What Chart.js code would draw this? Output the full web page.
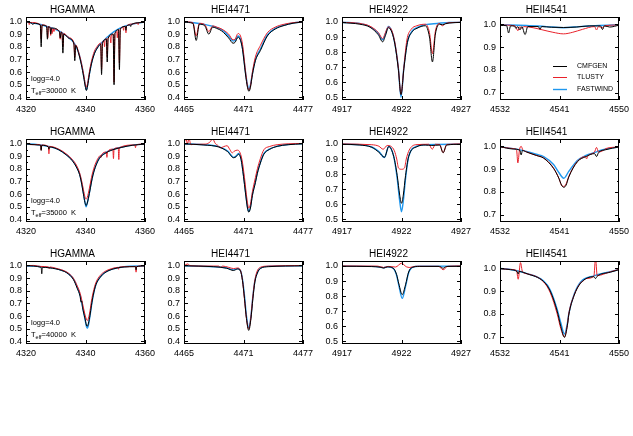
<!DOCTYPE html>
<html>
<head>
<meta charset="utf-8">
<script src="https://cdn.jsdelivr.net/npm/chart.js@4/dist/chart.umd.min.js"></script>
<style>
    html, body { margin: 0; padding: 0; background: #fff; overflow: hidden; }
    #wrap { position: relative; width: 633px; height: 436px; }
    #wrap canvas { position: absolute; }
</style>
</head>
<body>
<div id="wrap"></div>
<script>
// ---- data: [wavelength, normalised flux] ----
// HGAMMA, Teff = 30000 K
const hg30_cmfgen = [[4320,0.995],[4322,0.985],[4322.3,0.975],[4322.6,0.985],[4324.8,0.972],[4325.1,0.8],[4325.4,0.97],[4326.9,0.962],[4327.2,0.86],[4327.5,0.958],[4328.1,0.95],[4328.3,0.9],[4328.6,0.948],[4331.2,0.92],[4331.5,0.87],[4331.8,0.915],[4332.1,0.905],[4332.4,0.75],[4332.7,0.9],[4334.5,0.865],[4336.1,0.822],[4336.4,0.69],[4336.7,0.81],[4337.6,0.755],[4338.6,0.66],[4339.4,0.56],[4339.9,0.49],[4340.3,0.455],[4340.7,0.49],[4341.3,0.58],[4342,0.665],[4343,0.745],[4344,0.79],[4345.1,0.82],[4345.4,0.58],[4345.7,0.826],[4347,0.86],[4347.3,0.68],[4347.6,0.866],[4349.3,0.9],[4349.6,0.5],[4349.9,0.905],[4351.1,0.935],[4351.4,0.62],[4351.7,0.94],[4353.4,0.96],[4353.6,0.93],[4353.8,0.962],[4355,0.972],[4355.2,0.96],[4355.4,0.974],[4358,0.99],[4360,0.993]];
const hg30_tlusty = [[4320,0.997],[4320.9,0.992],[4321.1,0.975],[4321.3,0.992],[4324.8,0.975],[4325.1,0.86],[4325.4,0.973],[4327,0.962],[4327.3,0.87],[4327.6,0.96],[4328.1,0.952],[4328.3,0.89],[4328.5,0.95],[4328.8,0.905],[4329.1,0.945],[4329.4,0.92],[4329.7,0.94],[4331.2,0.922],[4331.5,0.86],[4331.8,0.918],[4332.1,0.91],[4332.4,0.8],[4332.7,0.905],[4334.5,0.872],[4336.1,0.83],[4336.4,0.72],[4336.7,0.815],[4337.6,0.765],[4338.6,0.675],[4339.4,0.58],[4339.9,0.51],[4340.3,0.48],[4340.7,0.51],[4341.3,0.6],[4342,0.685],[4343,0.765],[4344,0.805],[4345.1,0.83],[4345.4,0.62],[4345.7,0.836],[4346.2,0.848],[4346.4,0.8],[4346.6,0.852],[4347,0.865],[4347.3,0.72],[4347.6,0.87],[4348.3,0.882],[4348.5,0.83],[4348.7,0.886],[4349.3,0.9],[4349.6,0.52],[4349.9,0.905],[4350.5,0.918],[4350.7,0.87],[4350.9,0.922],[4351.1,0.935],[4351.4,0.67],[4351.7,0.94],[4352.6,0.955],[4352.8,0.93],[4353,0.958],[4353.4,0.962],[4353.6,0.91],[4353.8,0.964],[4355.9,0.98],[4357.5,0.988],[4357.7,0.975],[4357.9,0.99],[4360,0.995]];
const hg30_fastwind = [[4320,0.998],[4321.5,0.99],[4324.5,0.978],[4327,0.96],[4329,0.945],[4331,0.925],[4332.5,0.905],[4334.5,0.87],[4336.3,0.825],[4337.6,0.76],[4338.6,0.67],[4339.4,0.57],[4339.9,0.5],[4340.3,0.46],[4340.7,0.5],[4341.3,0.585],[4342,0.67],[4343,0.75],[4344,0.795],[4345.3,0.828],[4348.1,0.893],[4351.4,0.946],[4355.9,0.98],[4360,0.995]];

// HEI4471, Teff = 30000 K
const he4471_30_cmfgen = [[4465,0.993],[4465.9,0.985],[4466.23,0.85],[4466.55,0.978],[4467.1,0.965],[4467.5,0.9],[4467.9,0.955],[4468.3,0.945],[4468.8,0.925],[4469.5,0.87],[4469.95,0.828],[4470.15,0.835],[4470.45,0.875],[4470.7,0.85],[4470.9,0.78],[4471.2,0.585],[4471.4,0.48],[4471.55,0.448],[4471.7,0.48],[4471.9,0.58],[4472.2,0.69],[4472.7,0.77],[4473.4,0.885],[4474.2,0.94],[4475.1,0.968],[4476,0.986],[4477,0.995]];
const he4471_30_tlusty = [[4465,0.998],[4465.9,0.99],[4466.23,0.885],[4466.55,0.985],[4467.1,0.975],[4467.5,0.92],[4467.9,0.965],[4468.3,0.955],[4468.8,0.94],[4469.5,0.9],[4469.95,0.855],[4470.15,0.86],[4470.45,0.905],[4470.7,0.885],[4470.9,0.82],[4471.2,0.61],[4471.4,0.49],[4471.55,0.46],[4471.7,0.49],[4471.9,0.6],[4472.2,0.72],[4472.7,0.81],[4473.4,0.91],[4474.2,0.955],[4475.1,0.978],[4476,0.99],[4477,0.997]];
const he4471_30_fastwind = [[4465,0.997],[4466,0.99],[4467,0.978],[4468,0.96],[4468.8,0.935],[4469.5,0.885],[4469.95,0.845],[4470.15,0.85],[4470.45,0.885],[4470.7,0.86],[4470.9,0.79],[4471.2,0.6],[4471.4,0.5],[4471.55,0.47],[4471.7,0.5],[4471.9,0.59],[4472.2,0.7],[4472.7,0.78],[4473.4,0.893],[4474.2,0.945],[4475.1,0.972],[4476,0.988],[4477,0.996]];

// HEI4922, Teff = 30000 K
const he4922_30_cmfgen = [[4917,0.996],[4918.5,0.985],[4919.35,0.965],[4920.05,0.915],[4920.42,0.868],[4920.65,0.91],[4920.9,0.962],[4921.2,0.93],[4921.45,0.85],[4921.73,0.69],[4921.96,0.518],[4922.2,0.69],[4922.5,0.865],[4922.9,0.935],[4923.3,0.958],[4924,0.975],[4924.35,0.9],[4924.6,0.735],[4924.85,0.92],[4925.2,0.985],[4925.45,0.982],[4925.7,0.988],[4926,0.993],[4927,0.997]];
const he4922_30_tlusty = [[4917,0.998],[4918.5,0.99],[4919.35,0.972],[4920.05,0.93],[4920.42,0.89],[4920.65,0.93],[4920.9,0.968],[4921.2,0.94],[4921.45,0.86],[4921.73,0.7],[4921.96,0.52],[4922.2,0.7],[4922.45,0.88],[4922.8,0.95],[4923.3,0.975],[4924,0.985],[4924.35,0.93],[4924.6,0.79],[4924.85,0.94],[4925.15,0.99],[4925.45,0.975],[4925.7,0.99],[4926,0.995],[4927,0.998]];
const he4922_30_fastwind = [[4917,0.998],[4918.5,0.99],[4919.35,0.97],[4920.05,0.925],[4920.42,0.882],[4920.65,0.92],[4920.9,0.97],[4921.2,0.935],[4921.45,0.855],[4921.73,0.7],[4921.96,0.5],[4922.2,0.7],[4922.5,0.87],[4922.9,0.94],[4923.3,0.962],[4924,0.982],[4925,0.99],[4926,0.996],[4927,0.998]];

// HEII4541, Teff = 30000 K
const he4541_30_cmfgen = [[4532,0.995],[4533,0.994],[4533.3,0.962],[4533.6,0.993],[4534.2,0.992],[4534.4,0.982],[4534.7,0.99],[4535,0.975],[4535.3,0.99],[4535.8,0.955],[4536.2,0.99],[4537.8,0.99],[4538.05,0.978],[4538.3,0.99],[4539.8,0.987],[4541.6,0.986],[4543.6,0.988],[4545.5,0.993],[4547.2,0.993],[4547.5,0.977],[4547.8,0.993],[4548.6,0.988],[4550,0.996]];
const he4541_30_tlusty = [[4532,0.997],[4534.3,0.993],[4534.7,0.972],[4535,0.99],[4535.3,0.982],[4535.6,0.99],[4537,0.985],[4538.5,0.975],[4540,0.965],[4541.6,0.958],[4543,0.965],[4544.5,0.978],[4546.3,0.99],[4546.6,0.975],[4546.9,0.99],[4547.5,0.985],[4547.8,0.993],[4550,0.997]];
const he4541_30_fastwind = [[4532,0.998],[4536,0.995],[4539,0.99],[4541.6,0.985],[4544,0.99],[4547,0.995],[4550,0.998]];

// HGAMMA, Teff = 35000 K
const hg35_cmfgen = [[4320,0.996],[4324,0.988],[4324.9,0.985],[4325.1,0.945],[4325.3,0.985],[4327.5,0.972],[4327.7,0.955],[4327.9,0.972],[4331,0.95],[4333.5,0.91],[4335.5,0.865],[4336.9,0.815],[4338,0.755],[4338.6,0.695],[4339.3,0.6],[4339.8,0.535],[4340.2,0.51],[4340.6,0.53],[4341.3,0.605],[4342,0.695],[4342.5,0.75],[4343.5,0.825],[4344.7,0.883],[4346.5,0.92],[4349.2,0.95],[4352,0.968],[4355.9,0.986],[4360,0.994]];
const hg35_tlusty = [[4320,0.998],[4321.3,1.0],[4321.5,0.99],[4324,0.992],[4324.9,0.988],[4325.1,0.947],[4325.3,0.988],[4327.5,0.977],[4327.7,0.918],[4327.9,0.977],[4331,0.955],[4333.5,0.918],[4335.5,0.875],[4336.9,0.83],[4338,0.77],[4338.6,0.715],[4339.3,0.635],[4339.8,0.58],[4340.2,0.56],[4340.6,0.575],[4341.3,0.645],[4342,0.73],[4342.5,0.78],[4343.5,0.85],[4344.7,0.9],[4345,0.905],[4345.2,0.89],[4345.4,0.91],[4347,0.932],[4347.2,0.89],[4347.4,0.935],[4349.2,0.955],[4349.4,0.88],[4349.6,0.957],[4351,0.965],[4351.2,0.873],[4351.4,0.967],[4356.6,0.988],[4356.8,0.966],[4357,0.988],[4360,0.996]];
const hg35_fastwind = [[4320,0.998],[4324,0.99],[4328,0.975],[4331,0.952],[4333.5,0.913],[4335.5,0.87],[4336.9,0.82],[4338,0.76],[4338.6,0.7],[4339.3,0.61],[4339.8,0.54],[4340.2,0.5],[4340.6,0.53],[4341.3,0.61],[4342,0.7],[4342.5,0.755],[4343.5,0.83],[4344.7,0.887],[4346.5,0.925],[4349.2,0.953],[4352,0.97],[4355.9,0.987],[4360,0.995]];

// HEI4471, Teff = 35000 K
const he4471_35_cmfgen = [[4465,0.996],[4467,0.988],[4468.5,0.972],[4469.4,0.935],[4470,0.887],[4470.25,0.895],[4470.5,0.915],[4470.75,0.875],[4471,0.74],[4471.2,0.61],[4471.4,0.49],[4471.53,0.458],[4471.7,0.49],[4471.9,0.59],[4472.2,0.69],[4472.4,0.765],[4472.7,0.845],[4473.05,0.915],[4473.6,0.952],[4474.4,0.977],[4475.5,0.99],[4477,0.997]];
const he4471_35_tlusty = [[4465,1.0],[4465.2,1.04],[4465.35,0.995],[4465.5,1.04],[4465.7,0.99],[4466,0.993],[4467.2,0.995],[4467.6,1.01],[4467.9,1.035],[4468.15,1.0],[4468.4,0.985],[4468.7,0.966],[4469,0.975],[4469.35,0.982],[4469.6,0.955],[4469.86,0.926],[4470.1,0.94],[4470.36,0.947],[4470.6,0.935],[4470.85,0.87],[4471.1,0.73],[4471.35,0.56],[4471.53,0.49],[4471.7,0.52],[4471.9,0.62],[4472.2,0.73],[4472.4,0.8],[4472.7,0.88],[4473.05,0.95],[4473.6,0.975],[4474.4,0.99],[4475.5,0.997],[4477,1.0]];
const he4471_35_fastwind = [[4465,0.998],[4467,0.99],[4468.5,0.975],[4469.4,0.94],[4470,0.89],[4470.25,0.9],[4470.5,0.92],[4470.75,0.88],[4471,0.75],[4471.2,0.62],[4471.4,0.5],[4471.53,0.465],[4471.7,0.5],[4471.9,0.6],[4472.2,0.7],[4472.4,0.77],[4472.7,0.85],[4473.05,0.92],[4473.6,0.955],[4474.4,0.978],[4475.5,0.992],[4477,0.998]];

// HEI4922, Teff = 35000 K
const he4922_35_cmfgen = [[4917,0.998],[4918.5,0.993],[4919.5,0.978],[4920.1,0.945],[4920.57,0.912],[4920.93,0.983],[4921.35,0.916],[4921.64,0.79],[4921.85,0.66],[4922,0.606],[4922.15,0.66],[4922.34,0.79],[4922.6,0.916],[4923.3,0.982],[4924,0.993],[4924.55,0.99],[4925.2,0.993],[4925.5,0.942],[4925.8,0.993],[4927,0.998]];
const he4922_35_tlusty = [[4917,1.0],[4919.5,0.995],[4920.1,0.985],[4920.46,0.965],[4920.8,0.99],[4921.1,0.985],[4921.4,0.955],[4921.6,0.9],[4921.75,0.84],[4922,0.832],[4922.25,0.84],[4922.4,0.9],[4922.65,0.96],[4923.2,0.995],[4924.3,0.998],[4924.58,0.965],[4924.85,0.998],[4925.2,0.997],[4925.5,0.942],[4925.8,0.997],[4927,1.0]];
const he4922_35_fastwind = [[4917,0.999],[4918.5,0.995],[4919.5,0.98],[4920.1,0.95],[4920.57,0.91],[4920.93,0.985],[4921.35,0.916],[4921.64,0.77],[4921.85,0.62],[4922,0.55],[4922.15,0.62],[4922.34,0.77],[4922.6,0.916],[4923.3,0.985],[4924,0.995],[4927,0.999]];

// HEII4541, Teff = 35000 K
const he4541_35_cmfgen = [[4532,0.998],[4534,0.988],[4535,0.983],[4535.2,0.962],[4535.4,0.982],[4536,0.975],[4537.5,0.96],[4538.6,0.948],[4540.1,0.903],[4540.9,0.86],[4541.3,0.83],[4541.65,0.82],[4542,0.83],[4542.4,0.865],[4543.7,0.932],[4545,0.955],[4546.3,0.968],[4546.6,0.955],[4546.9,0.972],[4548,0.985],[4550,0.997]];
const he4541_35_tlusty = [[4532,0.998],[4534,0.99],[4534.5,0.985],[4534.7,0.927],[4534.95,0.985],[4535.2,1.0],[4535.45,0.985],[4536,0.976],[4537.5,0.96],[4538.6,0.949],[4540.1,0.905],[4540.9,0.86],[4541.3,0.83],[4541.65,0.824],[4542,0.835],[4542.4,0.868],[4543.7,0.934],[4544.9,0.955],[4545.1,0.945],[4545.3,0.958],[4546.3,0.975],[4546.6,0.995],[4546.9,0.975],[4547.7,0.983],[4548,0.99],[4550,0.997]];
const he4541_35_fastwind = [[4532,0.998],[4534,0.99],[4536,0.978],[4537.5,0.965],[4538.6,0.955],[4540.1,0.92],[4540.9,0.885],[4541.65,0.86],[4542.4,0.89],[4543.7,0.938],[4545,0.96],[4546.2,0.972],[4548,0.988],[4550,0.997]];

// HGAMMA, Teff = 40000 K
const hg40_cmfgen = [[4320,0.997],[4325.1,0.985],[4325.3,0.934],[4325.5,0.985],[4330,0.973],[4332,0.96],[4333.7,0.942],[4335.9,0.89],[4337.2,0.82],[4338.2,0.755],[4338.5,0.71],[4338.7,0.72],[4339,0.67],[4339.8,0.585],[4340.3,0.53],[4340.6,0.52],[4341,0.545],[4341.5,0.605],[4342,0.685],[4342.6,0.765],[4343.5,0.848],[4344.9,0.905],[4346.5,0.942],[4349.3,0.972],[4353,0.988],[4356.8,0.99],[4357,0.965],[4357.2,0.99],[4360,0.996]];
const hg40_tlusty = [[4320,0.998],[4322.5,1.0],[4325,0.992],[4327.6,0.988],[4327.8,0.975],[4328,0.988],[4330,0.978],[4332,0.965],[4333.7,0.948],[4335.9,0.9],[4337.2,0.84],[4338.2,0.78],[4339,0.7],[4339.8,0.615],[4340.3,0.575],[4340.6,0.565],[4341,0.585],[4341.5,0.64],[4342,0.72],[4342.6,0.79],[4343.5,0.865],[4344.9,0.92],[4346.5,0.952],[4349.3,0.978],[4350.9,0.985],[4351.1,0.97],[4351.3,0.986],[4353,0.99],[4356.8,0.992],[4357,0.947],[4357.2,0.992],[4360,0.997]];
const hg40_fastwind = [[4320,0.998],[4325,0.99],[4330,0.975],[4332,0.962],[4333.7,0.945],[4335.9,0.895],[4337.2,0.83],[4338.2,0.763],[4339,0.675],[4339.8,0.58],[4340.3,0.52],[4340.6,0.505],[4341,0.53],[4341.5,0.6],[4342,0.68],[4342.6,0.763],[4343.5,0.85],[4344.9,0.908],[4346.5,0.945],[4349.3,0.974],[4353,0.99],[4360,0.997]];

// HEI4471, Teff = 40000 K
const he4471_40_cmfgen = [[4465,0.997],[4468,0.99],[4469.3,0.978],[4470,0.96],[4470.4,0.972],[4470.7,0.955],[4470.9,0.88],[4471.1,0.74],[4471.3,0.58],[4471.53,0.487],[4471.75,0.58],[4471.95,0.74],[4472.15,0.87],[4472.4,0.94],[4472.7,0.976],[4473.5,0.99],[4477,0.997]];
const he4471_40_tlusty = [[4465,0.998],[4465.4,1.012],[4465.6,0.998],[4467,0.995],[4468.5,0.995],[4468.7,0.985],[4468.9,0.995],[4469.5,0.985],[4470,0.975],[4470.4,0.98],[4470.7,0.96],[4470.9,0.88],[4471.1,0.73],[4471.3,0.58],[4471.5,0.5],[4471.7,0.56],[4471.9,0.72],[4472.1,0.86],[4472.35,0.95],[4472.7,0.985],[4473.5,0.995],[4477,0.999]];
const he4471_40_fastwind = [[4465,0.998],[4468,0.99],[4469.3,0.98],[4470,0.965],[4470.4,0.975],[4470.7,0.96],[4470.9,0.89],[4471.1,0.76],[4471.3,0.6],[4471.53,0.51],[4471.75,0.6],[4471.95,0.76],[4472.15,0.88],[4472.4,0.945],[4472.7,0.978],[4473.5,0.993],[4477,0.998]];

// HEI4922, Teff = 40000 K
const he4922_40_cmfgen = [[4917,0.998],[4919.5,0.996],[4920.2,0.992],[4920.5,0.986],[4920.8,0.994],[4921.3,0.985],[4921.58,0.945],[4921.78,0.88],[4922.06,0.81],[4922.34,0.875],[4922.6,0.96],[4922.9,0.99],[4923.5,0.997],[4925.2,0.997],[4925.5,0.985],[4925.8,0.997],[4927,0.998]];
const he4922_40_tlusty = [[4917,1.0],[4920,0.999],[4920.5,0.99],[4920.9,0.997],[4921.5,0.993],[4922,1.018],[4922.4,0.995],[4922.7,0.99],[4923.2,0.998],[4925.1,0.998],[4925.5,0.975],[4925.9,0.998],[4927,1.0]];
const he4922_40_fastwind = [[4917,0.999],[4919.5,0.997],[4920.2,0.993],[4920.5,0.988],[4920.8,0.995],[4921.3,0.985],[4921.58,0.94],[4921.78,0.87],[4922.06,0.785],[4922.34,0.865],[4922.6,0.955],[4922.9,0.99],[4923.5,0.998],[4927,0.999]];

// HEII4541, Teff = 40000 K
const he4541_40_cmfgen = [[4532,0.998],[4533.6,0.994],[4534.6,0.985],[4534.75,0.975],[4534.9,0.986],[4536.1,0.976],[4538.6,0.942],[4539.6,0.9],[4540.65,0.812],[4541.2,0.745],[4541.75,0.697],[4542.2,0.75],[4542.4,0.795],[4543.2,0.88],[4544.2,0.935],[4546.2,0.963],[4546.45,0.955],[4546.7,0.965],[4548.7,0.983],[4550,0.994]];
const he4541_40_tlusty = [[4532,0.999],[4533.6,0.995],[4534.5,0.99],[4534.75,0.952],[4535.1,1.025],[4535.4,0.985],[4536.1,0.976],[4538.6,0.94],[4539.6,0.893],[4540.65,0.8],[4541.2,0.735],[4541.75,0.7],[4542.2,0.755],[4542.4,0.8],[4543.2,0.882],[4544.2,0.937],[4544.6,0.945],[4544.8,0.95],[4545,0.955],[4546.2,0.965],[4546.45,1.045],[4546.7,0.968],[4548.7,0.985],[4550,0.995]];
const he4541_40_fastwind = [[4532,0.999],[4533.6,0.995],[4536.1,0.977],[4538.6,0.944],[4539.6,0.905],[4540.65,0.82],[4541.2,0.76],[4541.75,0.712],[4542.2,0.76],[4542.4,0.8],[4543.2,0.885],[4544.2,0.94],[4546.2,0.967],[4548.7,0.985],[4550,0.995]];

// tick labels / axis limits
const lineNames = ["HGAMMA", "HEI4471", "HEI4922", "HEII4541"];
const xTickValues = [[4320, 4340, 4360], [4465, 4471, 4477], [4917, 4922, 4927], [4532, 4541, 4550]];
const yTickValues = [[0.4, 0.5, 0.6, 0.7, 0.8, 0.9, 1.0], [0.4, 0.5, 0.6, 0.7, 0.8, 0.9, 1.0], [0.5, 0.6, 0.7, 0.8, 0.9, 1.0], [0.7, 0.8, 0.9, 1.0]];
const yLimits = [[0.38, 1.035], [0.38, 1.035], [0.482, 1.033], [0.668, 1.032]];
const temperatures = ["30000", "35000", "40000"];
const modelNames = ["CMFGEN", "TLUSTY", "FASTWIND"];

const grid = [
    [[hg30_cmfgen, hg30_tlusty, hg30_fastwind], [he4471_30_cmfgen, he4471_30_tlusty, he4471_30_fastwind], [he4922_30_cmfgen, he4922_30_tlusty, he4922_30_fastwind], [he4541_30_cmfgen, he4541_30_tlusty, he4541_30_fastwind]],
    [[hg35_cmfgen, hg35_tlusty, hg35_fastwind], [he4471_35_cmfgen, he4471_35_tlusty, he4471_35_fastwind], [he4922_35_cmfgen, he4922_35_tlusty, he4922_35_fastwind], [he4541_35_cmfgen, he4541_35_tlusty, he4541_35_fastwind]],
    [[hg40_cmfgen, hg40_tlusty, hg40_fastwind], [he4471_40_cmfgen, he4471_40_tlusty, he4471_40_fastwind], [he4922_40_cmfgen, he4922_40_tlusty, he4922_40_fastwind], [he4541_40_cmfgen, he4541_40_tlusty, he4541_40_fastwind]]
];

// ---- layout / style ----
const FONT = "'Liberation Sans', Arial, sans-serif";
const modelColors = ["#000000", "#e8212a", "#1f97ee"];
const modelWidths = [1, 1, 1.4];
const colLeft = [26, 184, 342, 500];
const rowTop = [17, 139, 261];
const PLOT_W = 119, PLOT_H = 83;
const YAXIS_W = 26, TITLE_H = 13, XAXIS_H = 20;

// box with IDL-style inward ticks, plus per-panel annotations
const framePlugin = {
    id: "frame",
    afterDatasetsDraw(chart, args, opts) {
        const ctx = chart.ctx;
        const a = chart.chartArea;
        const xs = chart.scales.x, ys = chart.scales.y;
        ctx.save();
        ctx.strokeStyle = "#000";
        ctx.lineWidth = 1;
        ctx.strokeRect(Math.round(a.left) + 0.5, Math.round(a.top) + 0.5, Math.round(a.right - a.left) - 1, Math.round(a.bottom - a.top) - 1);
        ctx.beginPath();
        xs.ticks.forEach(t => {
            const px = Math.round(xs.getPixelForValue(t.value)) + 0.5;
            ctx.moveTo(px, a.bottom); ctx.lineTo(px, a.bottom - 4);
            ctx.moveTo(px, a.top); ctx.lineTo(px, a.top + 4);
        });
        ys.ticks.forEach(t => {
            const v = t.value;
            const py = Math.round(ys.getPixelForValue(v)) + 0.5;
            ctx.moveTo(a.left, py); ctx.lineTo(a.left + 4, py);
            ctx.moveTo(a.right, py); ctx.lineTo(a.right - 4, py);
            const m = v - 0.05;
            if (m > ys.min) {
                const pm = Math.round(ys.getPixelForValue(m)) + 0.5;
                ctx.moveTo(a.left, pm); ctx.lineTo(a.left + 2, pm);
                ctx.moveTo(a.right, pm); ctx.lineTo(a.right - 2, pm);
            }
        });
        ctx.stroke();

        ctx.fillStyle = "#000";
        ctx.textBaseline = "middle";
        ctx.textAlign = "left";
        if (opts.teff) {
            ctx.font = "7.5px " + FONT;
            ctx.fillText("logg=4.0", a.left + 5, a.top + 61.5);
            ctx.fillText("T", a.left + 5, a.top + 73.5);
            const tw = ctx.measureText("T").width;
            ctx.font = "5.5px " + FONT;
            ctx.fillText("eff", a.left + 5 + tw, a.top + 76);
            const ew = ctx.measureText("eff").width;
            ctx.font = "7.5px " + FONT;
            ctx.fillText("=" + opts.teff + "  K", a.left + 5 + tw + ew, a.top + 73.5);
        }
        if (opts.legend) {
            ctx.font = "7px " + FONT;
            const rows = [48.5, 60, 71.5];
            chart.data.datasets.forEach((ds, i) => {
                const y = Math.round(a.top + rows[i]) + 0.5;
                ctx.strokeStyle = ds.borderColor;
                ctx.lineWidth = ds.borderWidth;
                ctx.beginPath();
                ctx.moveTo(a.left + 53, y);
                ctx.lineTo(a.left + 67, y);
                ctx.stroke();
                ctx.fillText(ds.label, a.left + 77, y);
            });
        }
        ctx.restore();
    }
};

const wrap = document.getElementById("wrap");

grid.forEach((row, r) => {
    row.forEach((series, c) => {
        const canvas = document.createElement("canvas");
        const w = YAXIS_W + PLOT_W + YAXIS_W;
        const h = TITLE_H + PLOT_H + XAXIS_H;
        canvas.width = w;
        canvas.height = h;
        canvas.style.width = w + "px";
        canvas.style.height = h + "px";
        canvas.style.left = (colLeft[c] - YAXIS_W) + "px";
        canvas.style.top = (rowTop[r] - TITLE_H) + "px";
        wrap.appendChild(canvas);

        new Chart(canvas.getContext("2d"), {
            type: "line",
            data: {
                datasets: series.map((pts, i) => ({
                    label: modelNames[i],
                    data: pts,
                    borderColor: modelColors[i],
                    borderWidth: modelWidths[i],
                    pointRadius: 0,
                    fill: false,
                    cubicInterpolationMode: "monotone"
                }))
            },
            options: {
                responsive: false,
                animation: false,
                events: [],
                layout: { padding: { left: 0, right: YAXIS_W, top: 0, bottom: 0 } },
                plugins: {
                    legend: { display: false },
                    tooltip: { enabled: false },
                    title: {
                        display: true,
                        text: lineNames[c],
                        color: "#000",
                        font: { family: FONT, size: 10, weight: "normal", lineHeight: 1.2 },
                        padding: { top: 0, bottom: 1 }
                    },
                    frame: {
                        teff: c === 0 ? temperatures[r] : null,
                        legend: r === 0 && c === 3
                    }
                },
                scales: {
                    x: {
                        type: "linear",
                        min: xTickValues[c][0],
                        max: xTickValues[c][xTickValues[c].length - 1],
                        grid: { display: false, drawTicks: false },
                        border: { display: false },
                        ticks: {
                            color: "#000",
                            font: { family: FONT, size: 9 },
                            padding: 4,
                            maxRotation: 0,
                            autoSkip: false,
                            callback: v => String(v)
                        },
                        afterBuildTicks: s => { s.ticks = xTickValues[c].map(v => ({ value: v })); },
                        afterFit: s => { s.height = XAXIS_H; }
                    },
                    y: {
                        type: "linear",
                        min: yLimits[c][0],
                        max: yLimits[c][1],
                        grid: { display: false, drawTicks: false },
                        border: { display: false },
                        ticks: {
                            color: "#000",
                            font: { family: FONT, size: 9 },
                            padding: 4,
                            autoSkip: false,
                            callback: v => v.toFixed(1)
                        },
                        afterBuildTicks: s => { s.ticks = yTickValues[c].map(v => ({ value: v })); },
                        afterFit: s => { s.width = YAXIS_W; }
                    }
                }
            },
            plugins: [framePlugin]
        });
    });
});
</script>
</body>
</html>
